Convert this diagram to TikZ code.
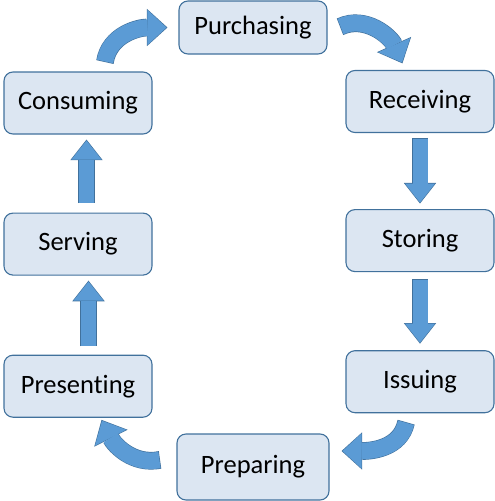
\documentclass[tikz,border=0pt]{standalone}
\usepackage{fontspec}
\setmainfont{Carlito}[Ligatures={NoCommon, NoRare, NoContextual}]
\usetikzlibrary{arrows.meta, positioning}
\definecolor{boxfill}{HTML}{DCE6F2}
\definecolor{boxline}{HTML}{41719C}
\definecolor{arrowfill}{HTML}{5B9BD5}
\definecolor{arrowline}{HTML}{41719C}

\begin{document}
\begin{tikzpicture}[
        x=1pt, y=1pt,
        node distance=76pt,
        stage/.style={
            rectangle,
            draw=boxline,
            line width=1.1pt,
            fill=boxfill,
            minimum width=148pt,
            minimum height=62pt,
            rounded corners=9pt,
            inner sep=0pt,
            font=\fontsize{26.5}{30}\selectfont
        },
        flow/.style={
            arrowfill, line width=15pt,
            -{Triangle[width=30pt, length=19pt, line width=0pt]},
            preaction={draw=arrowline, line width=16.2pt, shorten >=-1pt, shorten <=-0.6pt,
                -{Triangle[width=32.4pt, length=20.6pt, line width=0pt]}}
        },
        turn/.style={
            arrowfill, line width=16.5pt,
            -{Triangle[width=35pt, length=19pt, line width=0pt]},
            preaction={draw=arrowline, line width=17.7pt, shorten >=-1pt, shorten <=-0.6pt,
                -{Triangle[width=37.4pt, length=20.6pt, line width=0pt]}}
        }
    ]

    \useasboundingbox (0,0) rectangle (495,-501);

    % --- NODES ---
    \node (purch) [stage, minimum height=53pt] at (253,-27.5) {Purchasing};
    \node (recv) [stage] at (420,-101.5) {Receiving};
    \node (stor) [stage, below=of recv] {Storing};
    \node (issue) [stage, below=78pt of stor] {Issuing};
    \node (prep) [stage, minimum width=152pt, minimum height=66pt] at (253,-467) {Preparing};
    \node (cons) [stage] at (78,-103) {Consuming};
    \node (serv) [stage, below=78pt of cons] {Serving};
    \node (pres) [stage, below=79pt of serv] {Presenting};

    % --- ARROWS ---
    \draw [flow] ([yshift=-5.5pt]recv.south) -- ([yshift=6.5pt]stor.north);
    \draw [flow] ([yshift=-7.5pt]stor.south) -- ([yshift=7.5pt]issue.north);
    \draw [flow] ([xshift=10.5pt, yshift=9pt]pres.north) -- ([xshift=10.5pt, yshift=-6pt]serv.south);
    \draw [flow] ([xshift=8.5pt, yshift=10pt]serv.north) -- ([xshift=8.5pt, yshift=-6pt]cons.south);

    % --- CURVED ---
    \draw [turn] ([xshift=27pt, yshift=10pt]cons.north) to[out=81, in=180] ([xshift=-12pt]purch.west);
    \draw [turn] ([xshift=13pt, yshift=1pt]purch.east) to[out=25, in=114] ([xshift=-18pt, yshift=7.5pt]recv.north);
    \draw [turn] ([xshift=-14pt, yshift=-9.5pt]issue.south) to[out=-102, in=0] ([xshift=13pt, yshift=16pt]prep.east);
    \draw [turn] ([xshift=-17pt, yshift=7pt]prep.west) to[out=191, in=-63] ([xshift=24pt, yshift=-3pt]pres.south);

\end{tikzpicture}
\end{document}
